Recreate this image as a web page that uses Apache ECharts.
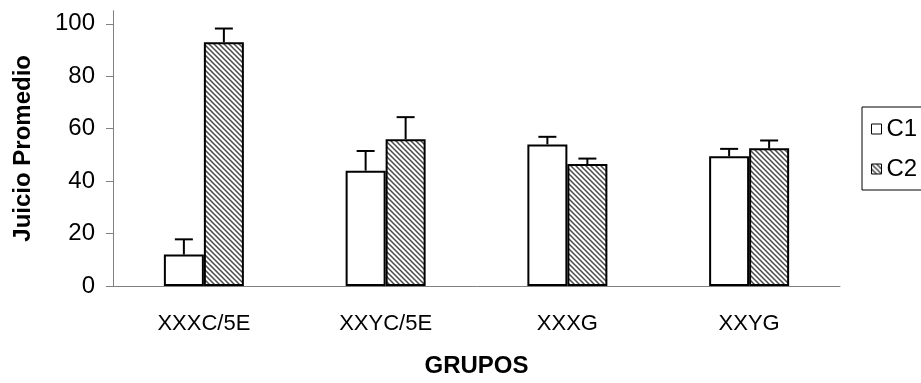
<!DOCTYPE html>
<html>
<head>
<meta charset="utf-8">
<script src="https://cdn.jsdelivr.net/npm/echarts@6/dist/echarts.min.js"></script>
<style>html,body{margin:0;padding:0;background:#fff}#c{width:921px;height:383px}</style>
</head>
<body>
<div id="c"></div>
<script>
var categories = ['XXXC/5E', 'XXYC/5E', 'XXXG', 'XXYG'];
var c1Values = [12, 44, 54, 49.5];
var c1Err = [5.8, 7.5, 2.9, 2.8];
var c2Values = [93, 56, 46.5, 52.5];
var c2Err = [5.2, 8.4, 2.1, 3.0];
var yTicks = [0, 20, 40, 60, 80, 100];
var seriesNames = ['C1', 'C2'];

var FONT = "'Liberation Sans', Arial, sans-serif";
var BAR_W = 40;

function hatch() {
  var s = 5;
  var cv = document.createElement('canvas');
  cv.width = s; cv.height = s;
  var ctx = cv.getContext('2d');
  ctx.fillStyle = '#fff';
  ctx.fillRect(0, 0, s, s);
  ctx.strokeStyle = '#4a4a4a';
  ctx.lineWidth = 1.5;
  ctx.beginPath();
  ctx.moveTo(-1, -1); ctx.lineTo(s + 1, s + 1);
  ctx.moveTo(-1, s - 1); ctx.lineTo(1, s + 1);
  ctx.moveTo(s - 1, -1); ctx.lineTo(s + 1, 1);
  ctx.stroke();
  return cv;
}

function errData(vals, errs) {
  return vals.map(function (v, i) { return [i, v, v + errs[i]]; });
}

function errSeries(vals, errs, dx) {
  return {
    type: 'custom',
    z: 10,
    silent: true,
    data: errData(vals, errs),
    renderItem: function (params, api) {
      var base = api.coord([api.value(0), api.value(1)]);
      var top = api.coord([api.value(0), api.value(2)]);
      var x = base[0] + dx;
      var st = { stroke: '#000', lineWidth: 2 };
      return {
        type: 'group',
        children: [
          { type: 'line', shape: { x1: x, y1: base[1], x2: x, y2: top[1] }, style: st },
          { type: 'line', shape: { x1: x - 9, y1: top[1], x2: x + 9, y2: top[1] }, style: st }
        ]
      };
    }
  };
}

var chart = echarts.init(document.getElementById('c'));
chart.setOption({
  backgroundColor: '#fff',
  animation: false,
  textStyle: { fontFamily: FONT, color: '#000' },
  grid: { left: 113, right: 81, top: 10.7, bottom: 93 },
  legend: {
    orient: 'vertical',
    left: 862,
    top: 107,
    data: seriesNames,
    icon: 'rect',
    itemWidth: 10,
    itemHeight: 10,
    itemGap: 16,
    padding: [10, 30, 9, 9],
    borderColor: '#000',
    borderWidth: 1,
    itemStyle: { borderWidth: 1, borderColor: '#000' },
    textStyle: { fontSize: 24, color: '#000', fontFamily: FONT }
  },
  xAxis: {
    type: 'category',
    data: categories,
    name: 'GRUPOS',
    nameLocation: 'middle',
    nameGap: 68,
    nameTextStyle: { fontSize: 24, fontWeight: 'bold', color: '#000', fontFamily: FONT },
    axisLine: { lineStyle: { color: '#808080', width: 1 } },
    axisTick: { show: false },
    axisLabel: { fontSize: 22, color: '#000', margin: 27, fontFamily: FONT },
    splitLine: { show: false }
  },
  yAxis: {
    type: 'value',
    min: 0,
    max: 105,
    interval: 20,
    name: 'Juicio Promedio',
    nameLocation: 'middle',
    nameGap: 78,
    nameTextStyle: { fontSize: 24, fontWeight: 'bold', color: '#000', fontFamily: FONT },
    axisLine: { show: true, lineStyle: { color: '#808080', width: 1 } },
    axisTick: { show: true, length: 7, lineStyle: { color: '#808080' }, customValues: yTicks },
    axisLabel: { fontSize: 24, color: '#000', margin: 18, customValues: yTicks, fontFamily: FONT },
    splitLine: { show: false }
  },
  series: [
    {
      name: seriesNames[0], type: 'bar', data: c1Values, barWidth: BAR_W, barGap: '0%',
      itemStyle: { color: '#fff', borderColor: '#000', borderWidth: 2 }
    },
    {
      name: seriesNames[1], type: 'bar', data: c2Values, barWidth: BAR_W, barGap: '0%',
      itemStyle: { color: { image: hatch(), repeat: 'repeat' }, borderColor: '#000', borderWidth: 2 }
    },
    errSeries(c1Values, c1Err, -BAR_W / 2),
    errSeries(c2Values, c2Err, BAR_W / 2)
  ]
});
</script>
</body>
</html>
